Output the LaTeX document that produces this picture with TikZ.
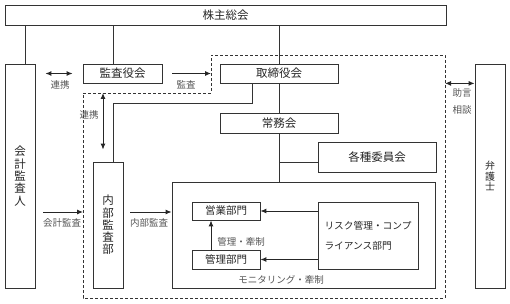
\documentclass[tikz,border=0pt]{standalone}
\usepackage{fontspec}
\newfontfamily\jpfont{Noto Sans CJK JP}
\usepackage{tikz}
\usetikzlibrary{arrows.meta, calc}
\definecolor{lineGray}{HTML}{333333}
\definecolor{labelGray}{HTML}{555555}

\begin{document}
\begin{tikzpicture}[x=1pt, y=-1pt, font=\jpfont\fontsize{11.5}{13}\selectfont,
  box/.style={draw=lineGray, line width=0.8pt, inner sep=0pt, text=black!85},
  link/.style={draw=lineGray, line width=0.8pt},
  lbl/.style={text=labelGray, font=\jpfont\fontsize{9.5}{11}\selectfont, inner sep=0pt},
  arr/.style={draw=black!85, line width=1pt, -{Latex[length=6pt,width=5pt]}},
  darr/.style={arr, {Latex[length=6pt,width=5pt]}-{Latex[length=6pt,width=5pt]}}]
  \useasboundingbox (0,0) rectangle (510,304);
  % boxes
  \node[box, minimum width=441pt, minimum height=20pt] (soukai) at (225.5,15) {株主総会};
  \node[box, minimum width=30pt, minimum height=224pt, align=center, font=\jpfont\fontsize{11.5}{12.3}\selectfont]
    (kaikei) at (20,176) {会\\計\\監\\査\\人};
  \node[box, minimum width=79pt, minimum height=19pt] (kansayaku) at (122.5,73.5) {監査役会};
  \node[box, minimum width=118pt, minimum height=19pt] (torishimari) at (279,73.5) {取締役会};
  \node[box, minimum width=30pt, minimum height=224pt, align=center, font=\jpfont\fontsize{10}{10.5}\selectfont]
    (bengoshi) at (490,176) {弁\\護\\士};
  \node[box, minimum width=118pt, minimum height=20pt] (jomu) at (279,123) {常務会};
  \node[box, minimum width=118pt, minimum height=30pt] (iinkai) at (377,157) {各種委員会};
  \node[box, minimum width=30pt, minimum height=126pt, align=center, font=\jpfont\fontsize{11.5}{12.3}\selectfont]
    (naibu) at (108,225) {内\\部\\監\\査\\部};
  \node[box, minimum width=263pt, minimum height=106pt] (monitor) at (303.5,235) {};
  \node[box, minimum width=68pt, minimum height=18pt, font=\jpfont\fontsize{10.5}{12}\selectfont] (eigyo) at (226,211) {営業部門};
  \node[box, minimum width=68pt, minimum height=19pt, font=\jpfont\fontsize{10.5}{12}\selectfont] (kanri) at (226,259.5) {管理部門};
  \node[box, minimum width=100pt, minimum height=67pt, align=left, font=\jpfont\fontsize{9.7}{20}\selectfont]
    (risk) at (368,235.5) {リスク管理・コンプ\\ライアンス部門};

  % dashed frame of the company
  \coordinate (frameA) at (83,93);
  \coordinate (frameB) at (211,55);
  \coordinate (frameC) at (445,298);
  \draw[lineGray, line width=0.8pt, dash pattern=on 3pt off 2pt]
    (frameA) -- (frameA -| frameB) -- (frameB) -- (frameB -| frameC) -- (frameC) -- (frameC -| frameA) -- cycle;

  % plain lines
  \draw[link] (soukai.south -| 25,0) -- (kaikei.north -| 25,0);
  \draw[link] (soukai.south -| 113,0) -- (kansayaku.north -| 113,0);
  \draw[link] (soukai.south -| torishimari.north) -- (torishimari.north);
  \draw[link] (torishimari.south) -- (jomu.north);
  \draw[link] (jomu.south) -- (jomu.south |- monitor.north);
  \coordinate (branch) at (0,162);
  \draw[link] (jomu.south |- branch) -- (iinkai.west |- branch);
  \draw[link] (torishimari.south -| 252,0) |- (113,103) -- (naibu.north -| 113,0);

  % arrows
  \coordinate (auditY) at (0,212);
  \draw[darr] ($(kaikei.east |- kansayaku.west)+(10,0)$) -- ($(kansayaku.west)+(-10,0)$);
  \draw[arr] ($(kansayaku.east)+(10,0)$) -- (kansayaku.east -| frameB);
  \draw[darr] (torishimari.south -| frameC) -- (torishimari.south -| bengoshi.west);
  \draw[darr] (frameA -| 103,0) -- ($(naibu.north -| 103,0)+(0,-12)$);
  \draw[arr] ($(kaikei.east |- auditY)+(8,0)$) -- (frameA |- auditY);
  \draw[arr] ($(naibu.east |- auditY)+(7,0)$) -- (monitor.west |- auditY);
  \draw[arr] (kanri.north -| 211,0) -- (eigyo.south -| 211,0);
  \draw[arr] (risk.west |- eigyo.east) -- (eigyo.east);
  \draw[arr] (risk.west |- kanri.east) -- (kanri.east);

  % labels
  \node[lbl] (renkeiA) at (60,85) {連携};
  \node[lbl] (kansaLbl) at (186,85) {監査};
  \node[lbl] (renkeiB) at (89,115) {連携};
  \node[lbl, align=center, font=\jpfont\fontsize{9.5}{17}\selectfont] (jogenLbl) at (462,101.5) {助言\\相談};
  \node[lbl] (kaikeiLbl) at (62,223) {会計監査};
  \node[lbl] (naibuLbl) at (149,223) {内部監査};
  \node[lbl] (kanriLbl) at (241,242) {管理・牽制};
  \node[lbl] (monLbl) at (281,280) {モニタリング・牽制};
\end{tikzpicture}
\end{document}
